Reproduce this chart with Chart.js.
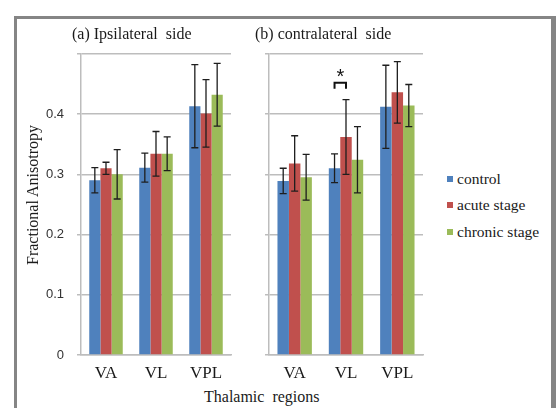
<!DOCTYPE html>
<html lang="en">
<head>
    <meta charset="UTF-8">
    <title>Fractional Anisotropy</title>
    <script src="https://cdn.jsdelivr.net/npm/chart.js"></script>
    <style>
        body { margin: 0; background: #fff; }
        .stage { position: relative; width: 558px; height: 408px; overflow: hidden; font-family: "Liberation Serif", "Times New Roman", serif; color: #1a1a1a; }
        .frame { position: absolute; left: 14px; top: 16px; width: 534px; height: 420px; border: 3px solid #858585; border-right-width: 5px; }
        canvas { position: absolute; }
        .lbl { position: absolute; font-size: 16px; white-space: pre; line-height: 1; }
        .legend { position: absolute; left: 447px; font-size: 15.5px; line-height: 1; }
        .legend span.sw { display: inline-block; width: 6px; height: 6px; margin-right: 4px; vertical-align: 2px; }
    </style>
</head>
<body>
<div class="stage">
    <div class="frame"></div>
    <canvas id="chartA" width="210" height="352" style="left:30px; top:33px;"></canvas>
    <canvas id="chartB" width="175" height="352" style="left:260px; top:33px;"></canvas>
    <div class="lbl" style="left:72px; top:26px;">(a) Ipsilateral  side</div>
    <div class="lbl" style="left:255px; top:26px;">(b) contralateral  side</div>
    <div class="lbl" style="left:204px; top:389px;">Thalamic  regions</div>
    <div class="lbl" style="left:33px; top:195px; transform: translate(-50%, -50%) rotate(-90deg);">Fractional Anisotropy</div>
    <div id="legend"></div>
</div>
<script>
    // categories and series
    const regions = ['VA', 'VL', 'VPL'];
    const seriesNames = ['control', 'acute stage', 'chronic stage'];
    const seriesColors = ['#4F81BD', '#C0504D', '#9BBB59'];
    const yTicks = [0, 0.1, 0.2, 0.3, 0.4, 0.5];

    // (a) ipsilateral side: means and error (SD)
    const ipsiControl = [0.290, 0.311, 0.413];
    const ipsiAcute = [0.310, 0.334, 0.401];
    const ipsiChronic = [0.300, 0.334, 0.432];
    const ipsiControlErr = [0.021, 0.024, 0.069];
    const ipsiAcuteErr = [0.010, 0.037, 0.056];
    const ipsiChronicErr = [0.041, 0.028, 0.052];

    // (b) contralateral side
    const contraControl = [0.289, 0.310, 0.412];
    const contraAcute = [0.318, 0.362, 0.436];
    const contraChronic = [0.295, 0.324, 0.414];
    const contraControlErr = [0.021, 0.024, 0.069];
    const contraAcuteErr = [0.046, 0.062, 0.051];
    const contraChronicErr = [0.038, 0.055, 0.035];

    // significance marker: control vs acute in VL (contralateral)
    const sigRegion = 'VL';
    const sigLevel = 0.452;

    // error bars drawn from dataset.errors
    const errorBarPlugin = {
        id: 'errorBars',
        afterDatasetsDraw(chart) {
            const ctx = chart.ctx;
            const y = chart.scales.y;
            ctx.save();
            ctx.strokeStyle = '#1e1e1e';
            ctx.lineWidth = 1.3;
            chart.data.datasets.forEach((ds, i) => {
                chart.getDatasetMeta(i).data.forEach((bar, j) => {
                    const top = y.getPixelForValue(ds.data[j] + ds.errors[j]);
                    const bot = y.getPixelForValue(ds.data[j] - ds.errors[j]);
                    ctx.beginPath();
                    ctx.moveTo(bar.x, top); ctx.lineTo(bar.x, bot);
                    ctx.moveTo(bar.x - 3.5, top); ctx.lineTo(bar.x + 3.5, top);
                    ctx.moveTo(bar.x - 3.5, bot); ctx.lineTo(bar.x + 3.5, bot);
                    ctx.stroke();
                });
            });
            ctx.restore();
        }
    };

    // bracket with asterisk
    const sigPlugin = {
        id: 'sigBracket',
        afterDatasetsDraw(chart, args, opts) {
            if (!opts || opts.region === undefined) return;
            const idx = chart.data.labels.indexOf(opts.region);
            const x1 = chart.getDatasetMeta(0).data[idx].x;
            const x2 = chart.getDatasetMeta(1).data[idx].x;
            const y = chart.scales.y.getPixelForValue(opts.level);
            const ctx = chart.ctx;
            ctx.save();
            ctx.strokeStyle = '#111';
            ctx.lineWidth = 2;
            ctx.beginPath();
            ctx.moveTo(x1, y + 6); ctx.lineTo(x1, y); ctx.lineTo(x2, y); ctx.lineTo(x2, y + 6);
            ctx.stroke();
            ctx.fillStyle = '#111';
            ctx.font = '20px "Liberation Sans", sans-serif';
            ctx.textAlign = 'center';
            ctx.textBaseline = 'middle';
            ctx.fillText('*', (x1 + x2) / 2, y - 5);
            ctx.restore();
        }
    };

    function makeDatasets(values, errors) {
        return values.map((v, i) => ({
            label: seriesNames[i],
            data: v,
            errors: errors[i],
            backgroundColor: seriesColors[i],
            borderWidth: 0,
            categoryPercentage: 0.67,
            barPercentage: 1.0
        }));
    }

    function createPanel(canvas, values, errors, yWidth, padRight, showLabels, sig) {
        return new Chart(canvas, {
            type: 'bar',
            data: { labels: regions, datasets: makeDatasets(values, errors) },
            options: {
                responsive: false,
                animation: false,
                devicePixelRatio: 1,
                layout: { padding: { left: 0, right: padRight, top: 0, bottom: 0 } },
                plugins: {
                    legend: { display: false },
                    tooltip: { enabled: false },
                    sigBracket: sig
                },
                scales: {
                    x: {
                        grid: { display: false, drawTicks: false },
                        border: { display: true, color: '#BDBDBD', width: 1.5 },
                        ticks: { color: '#1a1a1a', padding: 8, font: { family: '"Liberation Serif", serif', size: 17 } },
                        afterFit: s => { s.height = 30; }
                    },
                    y: {
                        min: yTicks[0],
                        max: yTicks[yTicks.length - 1],
                        afterBuildTicks: s => { s.ticks = yTicks.map(v => ({ value: v })); },
                        grid: { color: '#BDBDBD', lineWidth: 1.5, tickLength: 4 },
                        border: { display: true, color: '#BDBDBD', width: 1.5 },
                        ticks: {
                            color: '#333',
                            padding: 13,
                            font: { family: '"Liberation Sans", sans-serif', size: 13 },
                            callback: v => (!showLabels || v > 0.45) ? '' : (v === 0 ? '0' : v.toFixed(1))
                        },
                        afterFit: s => { s.width = yWidth; }
                    }
                }
            },
            plugins: [errorBarPlugin, sigPlugin]
        });
    }

    createPanel(document.getElementById('chartA'),
        [ipsiControl, ipsiAcute, ipsiChronic],
        [ipsiControlErr, ipsiAcuteErr, ipsiChronicErr],
        51, 9, true, {});

    createPanel(document.getElementById('chartB'),
        [contraControl, contraAcute, contraChronic],
        [contraControlErr, contraAcuteErr, contraChronicErr],
        9, 12, false, { region: sigRegion, level: sigLevel });

    // legend
    const legendTops = [171, 197, 224];
    document.getElementById('legend').innerHTML = seriesNames.map((n, i) =>
        `<div class="legend" style="top:${legendTops[i]}px;"><span class="sw" style="background:${seriesColors[i]}"></span>${n}</div>`
    ).join('');
</script>
</body>
</html>
